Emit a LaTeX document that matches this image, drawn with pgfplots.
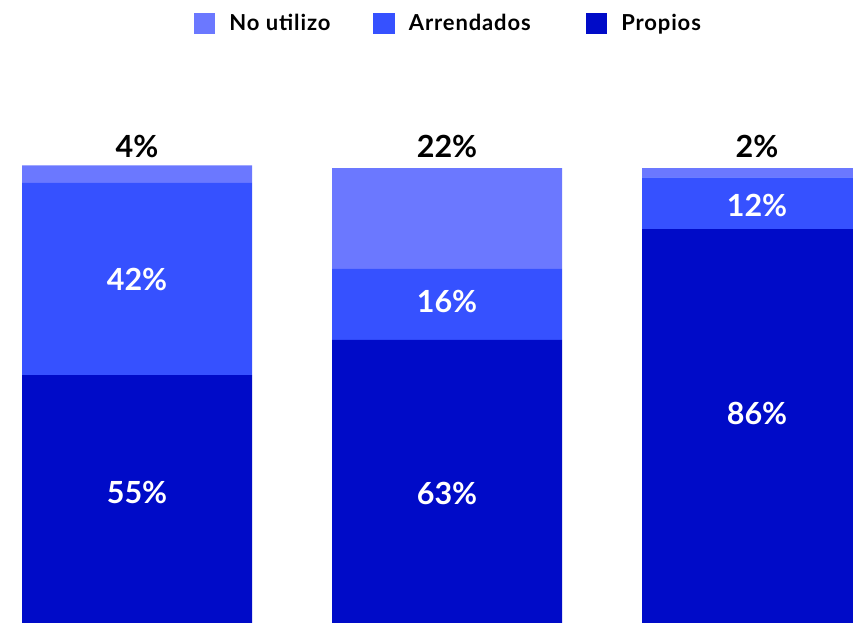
\documentclass[border=0pt]{standalone}
\usepackage{pgfplots}
\pgfplotsset{compat=1.18}
\usepackage{pgfplotstable}
\usepackage{fontspec}
\setmainfont{Lato}

\definecolor{propios}{RGB}{0,11,200}
\definecolor{arrend}{RGB}{54,81,255}
\definecolor{noutil}{RGB}{107,120,255}

% heights of the segments, in percent
\pgfplotstableread{
x propios arrend noutil
0 55.1 42.7 3.9
1 62.9 15.8 22.4
2 87.5 11.5 2.1
}\barras

% labels inside the bars
\pgfplotstableread{
x y lab
0 28.9 55
0 76.3 42
1 28.7 63
1 71.4 16
2 46.6 86
2 92.8 12
}\dentro

% labels on top
\pgfplotstableread{
x y lab
0 105.8 4
1 105.8 22
2 105.8 2
}\arriba

\pgfplotsset{
  base/.style={
    width=853pt, height=623pt, scale only axis,
    at={(0,0)}, anchor=south west,
    xmin=-0.44194, xmax=2.30968,
    ymin=0, ymax=138.444,
    hide axis,
  },
  etiq/.style={
    only marks, mark=*, mark size=0pt,
    mark options={draw=none, fill=none},
    point meta=explicit symbolic,
    nodes near coords={\pgfplotspointmeta\%},
    every node near coord/.append style={anchor=center, inner sep=0pt,
      font=\fontsize{30.5}{36}\selectfont\bfseries},
  },
}

\begin{document}
\begin{tikzpicture}
\begin{axis}[
    base,
    ybar stacked,
    bar width=230pt,
    reverse legend,
    legend columns=3,
    legend image code/.code={
      \fill[#1, draw=none] (0pt,-10.75pt) rectangle (21.5pt,10.75pt);
      \path[draw=none, fill=none] (0pt,0pt) -- (35.5pt,0pt);
    },
    legend style={
      draw=none, fill=none, inner sep=0pt, outer sep=0pt,
      at={(axis description cs:0.2274,0.9621)}, anchor=west,
      font=\fontsize{22}{26}\selectfont\bfseries\addfontfeatures{LetterSpace=4},
      nodes={inner sep=0pt},
      /tikz/column sep=0pt,
      /tikz/every even column/.append style={text height=15.7pt, text depth=0pt},
    },
    legend cell align=left,
]
\addplot[fill=propios, draw=none] table[x=x, y=propios]{\barras};
\addlegendentry{Propios}
\addplot[fill=arrend, draw=none] table[x=x, y=arrend]{\barras};
\addlegendentry{Arrendados\hspace*{55pt}}
\addplot[fill=noutil, draw=none] table[x=x, y=noutil]{\barras};
\addlegendentry{No utilizo\hspace*{43pt}}
\end{axis}

\begin{axis}[base]
\addplot[etiq, every node near coord/.append style={text=white}]
  table[x=x, y=y, meta=lab]{\dentro};
\addplot[etiq, every node near coord/.append style={text=black}]
  table[x=x, y=y, meta=lab]{\arriba};
\end{axis}
\pgfresetboundingbox
\useasboundingbox (0,0) rectangle (853pt,623pt);
\end{tikzpicture}
\end{document}
